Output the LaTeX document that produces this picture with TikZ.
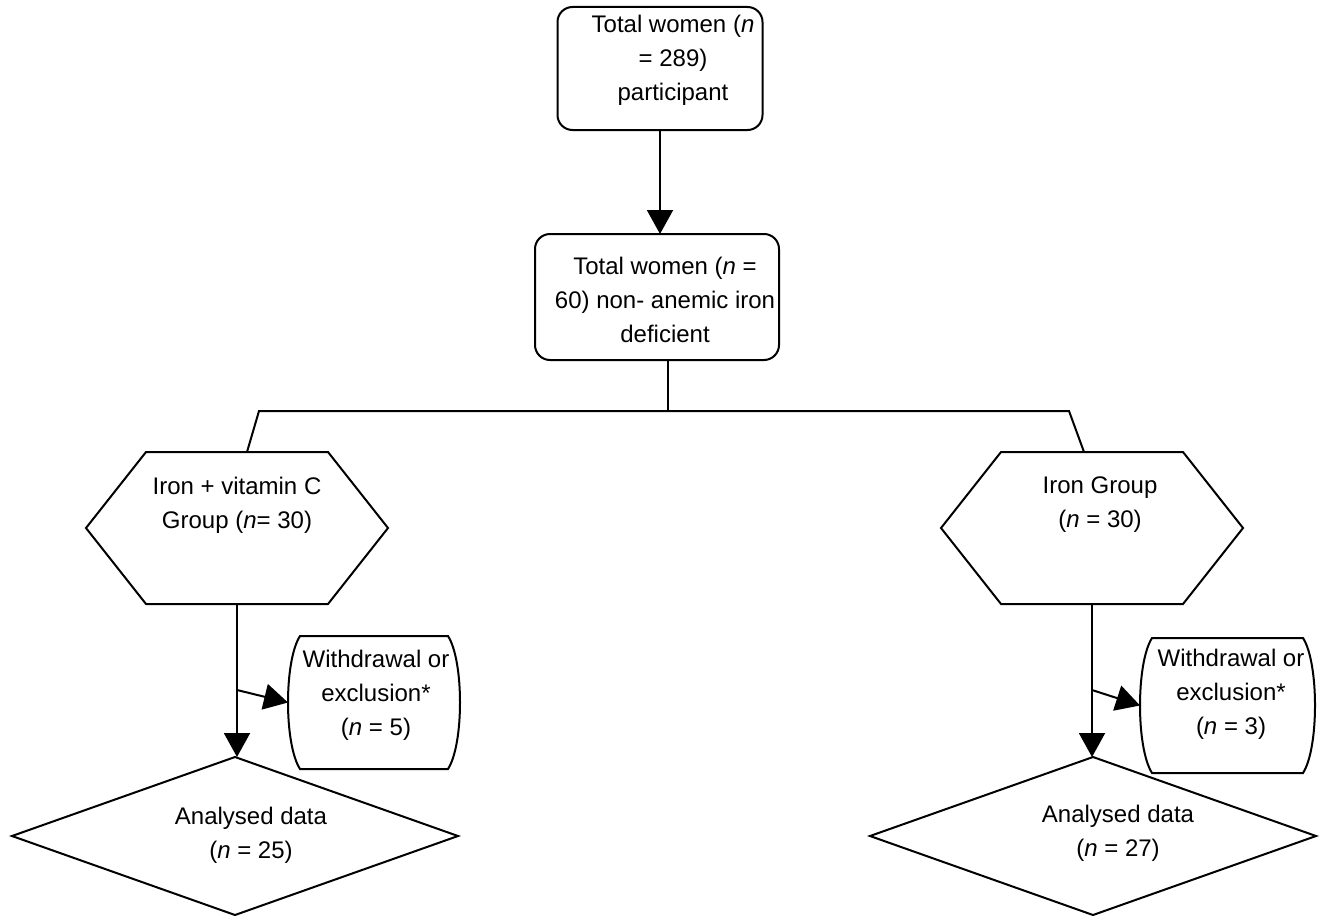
\documentclass[tikz,border=0pt]{standalone}
\usepackage{fontspec}
\setmainfont{Liberation Sans}
\usetikzlibrary{arrows.meta,shapes.geometric,calc}

\tikzset{
  ln/.style={line width=1pt},
  arr/.style={line width=1pt,-{Triangle[length=12pt,width=13pt]}},
  rbox/.style={draw,line width=1pt,rounded corners=7.5pt,inner sep=0pt,outer sep=0pt},
  frame/.style={inner sep=0pt,outer sep=0pt},
  dec/.style={draw,diamond,line width=1pt,inner sep=0pt,outer sep=0pt,minimum width=223pt,minimum height=79pt,aspect=2.8},
  txt/.style={align=center,font=\fontsize{12}{17}\selectfont}
}
\newcommand{\hexshape}[1]{\draw[ln] (#1.west) -- ($(#1.north west)+(60,0)$) -- ($(#1.north east)+(-60,0)$) -- (#1.east) -- ($(#1.south east)+(-60,0)$) -- ($(#1.south west)+(60,0)$) -- cycle;}
\newcommand{\wdshape}[1]{\draw[ln] ($(#1.north west)+(12,0)$) -- ($(#1.north east)+(-12,0)$) .. controls ($(#1.north east)+(4,25)$) and ($(#1.south east)+(4,-25)$) .. ($(#1.south east)+(-12,0)$) -- ($(#1.south west)+(12,0)$) .. controls ($(#1.south west)+(-4,-25)$) and ($(#1.north west)+(-4,25)$) .. cycle;}

\begin{document}
\begin{tikzpicture}[x=0.5pt,y=-0.5pt]
\useasboundingbox (0,0) rectangle (1320,915);
\node[rbox,minimum width=102.5pt,minimum height=61.5pt] (total) at (660,68.5) {};
\node[rbox,minimum width=122pt,minimum height=63pt] (sel) at (657,297) {};
\node[frame,minimum width=151pt,minimum height=76pt] (hexA) at (237,528) {};
\node[frame,minimum width=151pt,minimum height=76pt] (hexB) at (1092,528) {};
\node[frame,minimum width=86pt,minimum height=66.5pt] (wdA) at (374,702.5) {};
\node[frame,minimum width=87.5pt,minimum height=67.5pt] (wdB) at (1227.5,705.5) {};
\node[dec] (anaA) at (235,836) {};
\node[dec] (anaB) at (1093,836) {};
\hexshape{hexA}
\hexshape{hexB}
\wdshape{wdA}
\wdshape{wdB}

\node[txt] (total-t) at (673,60) {Total women (\textit{n}\\= 289)\\participant};
\node[txt] (sel-t) at (665,300) {Total women (\textit{n} =\\60) non- anemic iron\\deficient};
\node[txt] (hexA-t) at (237,505) {Iron + vitamin C\\Group (\textit{n}= 30)};
\node[txt] (hexB-t) at (1100,505) {Iron Group\\(\textit{n} = 30)};
\node[txt] (wdA-t) at (376,695) {Withdrawal or\\exclusion*\\(\textit{n} = 5)};
\node[txt] (wdB-t) at (1231,694) {Withdrawal or\\exclusion*\\(\textit{n} = 3)};
\node[txt] (anaA-t) at (251,835) {Analysed data\\(\textit{n} = 25)};
\node[txt] (anaB-t) at (1118,833) {Analysed data\\(\textit{n} = 27)};

\coordinate (stem) at ($(sel.south)+(11,0)$);
\coordinate (jA) at (259,411);
\coordinate (jB) at (1069,411);
\coordinate (sA) at (237,690);
\coordinate (sB) at (1092,690);

\draw[arr] (total.south) -- (total.south |- sel.north);
\draw[ln] (stem) -- (stem |- jA);
\draw[ln] ($(hexA.north)+(10,0)$) -- (jA) -- (jB) -- ($(hexB.north)+(-8,0)$);
\draw[arr] (hexA.south) -- (hexA.south |- anaA.north);
\draw[arr] (sA) -- (wdA.west);
\draw[arr] (hexB.south) -- (hexB.south |- anaB.north);
\draw[arr] (sB) -- (wdB.west);
\end{tikzpicture}
\end{document}
